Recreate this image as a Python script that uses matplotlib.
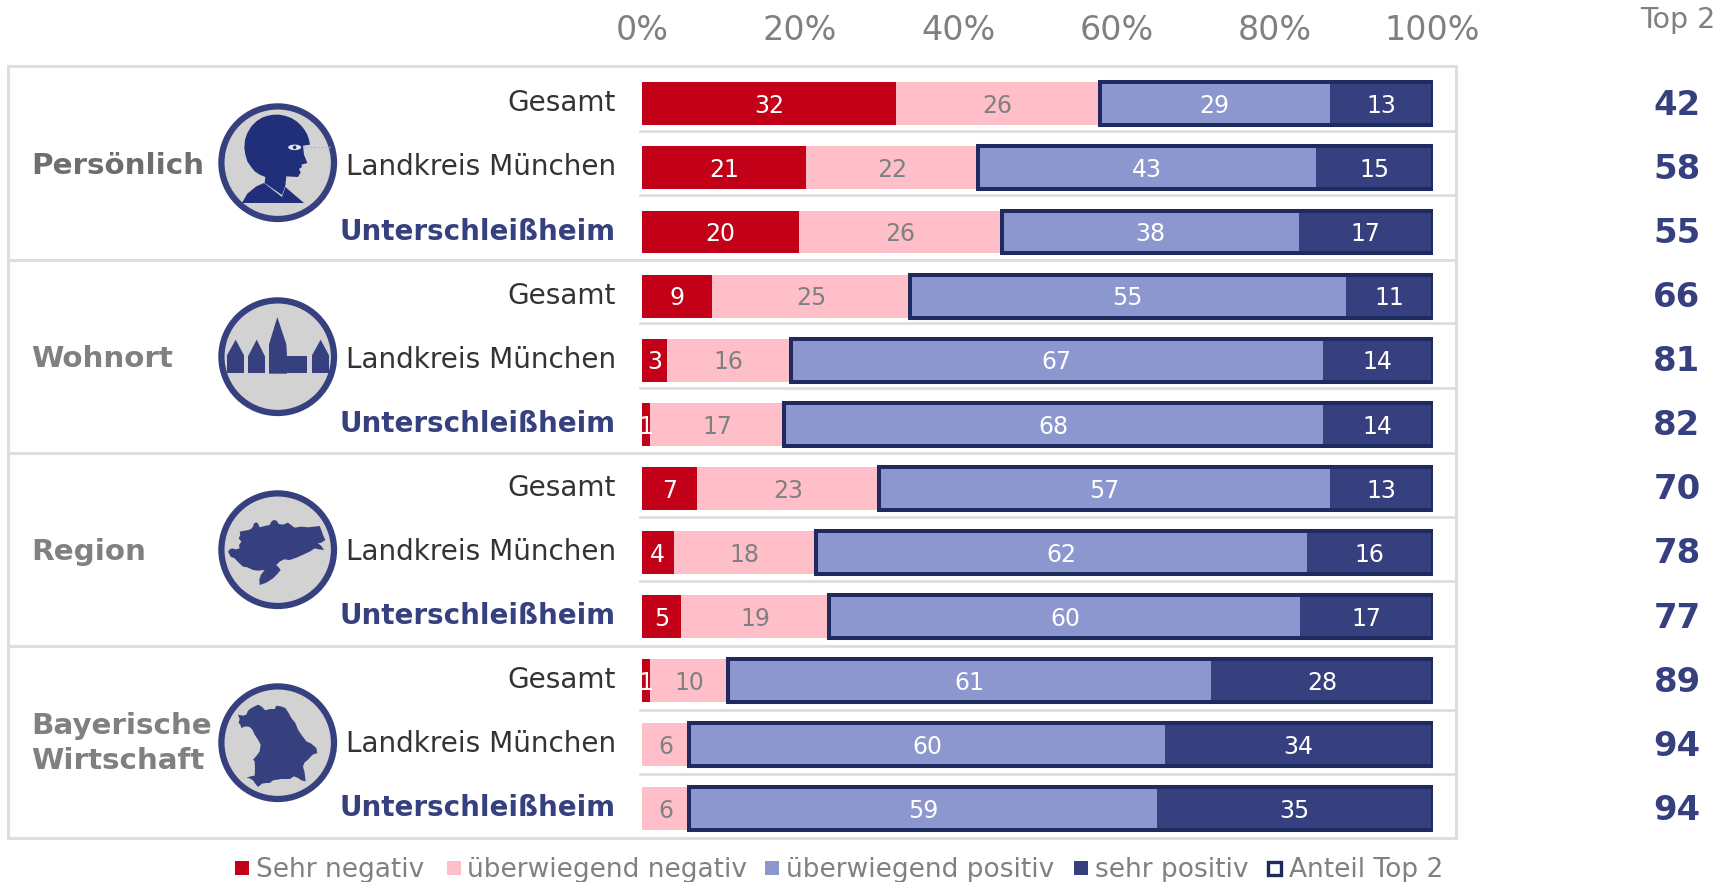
import matplotlib
matplotlib.use("Agg")
import matplotlib.pyplot as plt
from matplotlib.patches import Circle, Ellipse, Polygon, Rectangle

W, H = 1727, 882

rows = ["Gesamt", "Landkreis München", "Unterschleißheim"] * 4
groups = ["Persönlich", "Wohnort", "Region", "Bayerische\nWirtschaft"]
sehr_neg = [32.1, 20.8, 19.8, 8.9, 3.1, 1.0, 7.0, 4.0, 4.9, 1.0, 0, 0]
ueb_neg = [25.8, 21.7, 25.7, 25.0, 15.7, 17.0, 23.0, 18.0, 18.8, 9.9, 6.0, 6.0]
ueb_pos = [29.1, 42.7, 37.6, 55.1, 67.3, 68.1, 57.0, 62.1, 59.6, 61.1, 60.1, 59.1]
sehr_pos = [13.0, 14.8, 16.9, 11.0, 13.9, 13.9, 13.0, 15.9, 16.7, 28.0, 33.9, 34.9]
top2 = [42, 58, 55, 66, 81, 82, 70, 78, 77, 89, 94, 94]
ticks = [0, 20, 40, 60, 80, 100]
legend_names = ["Sehr negativ", "überwiegend negativ", "überwiegend positiv", "sehr positiv", "Anteil Top 2"]

RED = "#c20018"
PINK = "#ffbfc8"
LIGHT = "#8b97ce"
DARK = "#36407e"
OUTLINE = "#1f2a5e"
GREY = "#808080"
FRAME = "#dedede"

# icon outlines (140px crop coordinates x3)
body = [(102, 330), (118, 302), (145, 280), (168, 270), (222, 312), (232, 282), (288, 330)]
head = [(170, 270), (172, 252), (155, 245), (140, 235), (128, 220), (118, 205), (112, 185), (109, 165), (111, 140),
        (118, 120), (130, 100), (145, 85), (162, 74), (180, 68), (197, 65), (215, 65), (233, 69), (250, 75), (266, 85),
        (280, 98), (290, 111), (298, 125), (303, 140), (306, 155), (285, 158), (288, 185), (298, 210),
        (280, 215), (282, 222), (273, 228), (278, 238), (270, 252), (235, 250), (232, 278), (222, 306)]
church = [
    [(57, 258), (57, 205), (83, 158), (108, 205), (108, 258)],
    [(120, 258), (120, 208), (146, 158), (171, 208), (171, 258)],
    [(183, 260), (183, 172), (208, 90), (235, 172), (237, 207), (297, 207), (297, 258), (237, 258), (237, 260)],
    [(312, 258), (312, 205), (338, 158), (363, 205), (363, 258)],
]
region = [(60, 215), (66, 208), (72, 205), (84, 208), (95, 205), (93, 196), (100, 185), (92, 175), (97, 165), (95, 155),
          (110, 152), (122, 150), (129, 147), (135, 140), (138, 130), (145, 127), (150, 130), (155, 142), (170, 138),
          (185, 135), (190, 125), (197, 120), (206, 122), (212, 132), (225, 134), (240, 128), (250, 136), (260, 143),
          (280, 140), (300, 142), (318, 140), (335, 138), (340, 150), (345, 165), (352, 180), (340, 188), (330, 190),
          (340, 198), (348, 210), (332, 208), (320, 205), (305, 215), (290, 222), (268, 232), (245, 240), (228, 238),
          (215, 245), (205, 255), (212, 262), (218, 270), (208, 282), (195, 295), (175, 308), (155, 315), (154, 300),
          (158, 285), (170, 270), (150, 272), (135, 270), (118, 262), (105, 260), (92, 248), (80, 235), (68, 230)]
bavaria = [(90, 125), (105, 128), (115, 125), (120, 113), (130, 105), (140, 100), (150, 95), (160, 100), (172, 112),
           (186, 108), (200, 108), (205, 98), (218, 100), (232, 105), (242, 120), (250, 135), (262, 150), (270, 170),
           (282, 188), (295, 205), (310, 212), (325, 225), (328, 240), (314, 245), (300, 260), (290, 268), (285, 280),
           (290, 300), (293, 325), (280, 322), (270, 315), (258, 310), (245, 318), (220, 318), (195, 322), (185, 330),
           (175, 330), (162, 332), (150, 342), (142, 332), (135, 322), (125, 316), (115, 315), (128, 310), (140, 308),
           (141, 285), (140, 265), (135, 260), (146, 248), (155, 235), (158, 215), (150, 200), (140, 185), (133, 170),
           (125, 162), (112, 160), (100, 165), (97, 155), (92, 150), (95, 138)]


def crop_pts(pts, top):
    return [(208 + x / 3, top + y / 3) for x, y in pts]


fig = plt.figure(figsize=(W / 100, H / 100), dpi=100)

# overlay in pixels for frame, icons and text
bg = fig.add_axes([0, 0, 1, 1])
bg.set_xlim(0, W)
bg.set_ylim(H, 0)
bg.axis("off")

bg.add_patch(Rectangle((8, 66), 1448, 772, fc="white", ec=FRAME, lw=2.2))
for y in [260, 453, 646]:
    bg.plot([8, 1456], [y, y], color=FRAME, lw=2.2)
for y in [131, 195, 323, 388, 517, 581, 710, 774]:
    bg.plot([640, 1456], [y, y], color=FRAME, lw=2.0)

# main bars
ax = fig.add_axes([642 / W, 1 - 838 / H, 790.5 / W, 772 / H])
ax.patch.set_alpha(0)
ax.set_xlim(0, 100)
pos = list(range(12))
ax.set_ylim((838 - 103.8) / 64.1, (66 - 103.8) / 64.1)
for s in ax.spines.values():
    s.set_visible(False)

left = [0] * 12
for vals, col, tcol in [(sehr_neg, RED, "white"), (ueb_neg, PINK, GREY), (ueb_pos, LIGHT, "white"), (sehr_pos, DARK, "white")]:
    ax.barh(pos, vals, left=left, height=0.67, color=col, zorder=2)
    for i, v in enumerate(vals):
        if v > 0:
            ax.text(left[i] + v / 2, i + 0.035, str(round(v)), color=tcol, fontsize=17,
                    ha="center", va="center", zorder=4)
    left = [a + b for a, b in zip(left, vals)]

start = [a + b for a, b in zip(sehr_neg, ueb_neg)]
total = [a + b for a, b in zip(ueb_pos, sehr_pos)]
ax.barh(pos, total, left=start, height=0.67, facecolor="none", edgecolor=OUTLINE, linewidth=2.9, zorder=3)

ax.set_yticks([])
ax.set_xticks(ticks)
ax.set_xticklabels([f"{t}%" for t in ticks], fontsize=24, color=GREY)
ax.xaxis.tick_top()
ax.tick_params(axis="x", length=0, pad=13.5)

# row labels and top 2 column
for i, name in enumerate(rows):
    y = 103.8 + 64.1 * i
    if name == "Unterschleißheim":
        bg.text(616, y - 0.5, name, ha="right", va="center", fontsize=20, fontweight="bold", color=DARK)
    else:
        bg.text(616, y - 0.5, name, ha="right", va="center", fontsize=20.1, color="#333333")
    bg.text(1677, y + 1.5, str(top2[i]), ha="center", va="center", fontsize=24.4, fontweight="bold", color=DARK)
bg.text(1678, 20.5, "Top 2", ha="center", va="center", fontsize=20.5, color=GREY)

# group labels
for name, y, col in zip(groups, [166, 359, 552, 743.5], ["#6e6e6e", GREY, GREY, GREY]):
    bg.text(31, y, name, ha="left", va="center", fontsize=21.2, fontweight="bold", color=col, linespacing=1.3)

# icons
tops = [93, 287, 480, 673]
for top in tops:
    bg.add_patch(Circle((277.7, top + 69.7), 56.3, fc="#d2d2d2", ec=DARK, lw=4.5))
bg.add_patch(Polygon(crop_pts(body, 93), fc="#212e7a", ec="none"))
bg.add_patch(Polygon(crop_pts(head, 93), fc="#212e7a", ec="none"))
bg.add_patch(Ellipse((208 + 260 / 3, 93 + 163 / 3), 13, 5.5, fc="#e4e6f0", ec="none"))
bg.add_patch(Circle((208 + 260 / 3, 93 + 163 / 3), 1.8, fc="#212e7a", ec="none"))
bg.plot([208 + 285 / 3, 208 + 368 / 3], [93 + 162 / 3] * 2, color="#aab0d8", lw=1, ls=":")
for shape in church:
    bg.add_patch(Polygon(crop_pts(shape, 287), fc=DARK, ec="none"))
bg.add_patch(Polygon(crop_pts(region, 480), fc=DARK, ec="none"))
bg.add_patch(Polygon(crop_pts(bavaria, 673), fc=DARK, ec="none"))

# legend
sq_x = [235, 447, 765, 1074]
txt_x = [256, 467, 786, 1095, 1289]
for x, col in zip(sq_x, [RED, PINK, LIGHT, DARK]):
    bg.add_patch(Rectangle((x, 861), 14, 14, fc=col, ec="none"))
bg.add_patch(Rectangle((1268, 861.5), 13, 13, fc="white", ec=OUTLINE, lw=2.4))
for x, name in zip(txt_x, legend_names):
    bg.text(x, 870, name, ha="left", va="center", fontsize=19, color=GREY)

fig.savefig("out.png", dpi=100)
